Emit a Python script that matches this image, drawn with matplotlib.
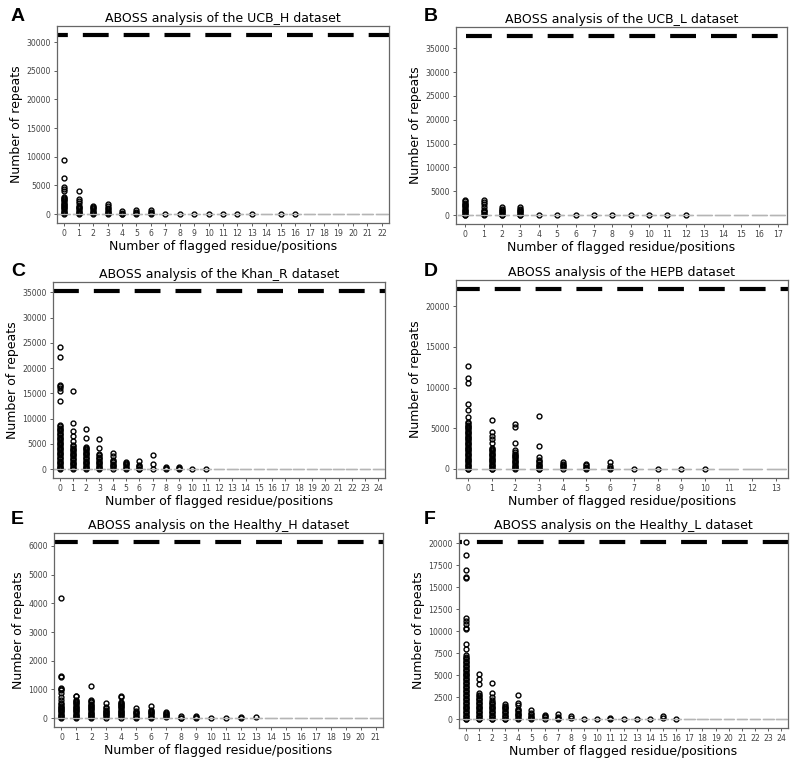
import numpy as np
import matplotlib
matplotlib.use('Agg')
import matplotlib.pyplot as plt
from matplotlib.ticker import MultipleLocator

plt.rcParams['font.family'] = 'DejaVu Sans'

# outlier values (repeats) per number of flagged positions; boxes collapse to 0
ucb_h = [
    [9500, 6300, 4750, 4300, 4000, 3000, 2800, 2600, 2400, 2200, 2000, 1800, 1600, 1400, 1200, 1000, 800, 600, 400, 200, 0],
    [4000, 2550, 2250, 1950, 1400, 1200, 1000, 800, 600, 400, 200, 0],
    [1400, 1200, 1000, 800, 600, 400, 200, 0],
    [1800, 1400, 1000, 800, 600, 400, 200, 0],
    [450, 250, 50, 0],
    [700, 350, 150, 0],
    [650, 350, 150, 0],
    [0], [0], [0], [0], [0], [0], [0],
    [],
    [0], [0],
]
ucb_l = [
    [3100, 2850, 2600, 2350, 2100, 1850, 1600, 1350, 1100, 850, 600, 350, 100, 0],
    [3150, 2700, 2300, 1600, 1050, 800, 550, 300, 0],
    [1600, 1350, 1100, 850, 600, 350, 100, 0],
    [1600, 1350, 1100, 850, 600, 350, 100, 0],
    [0], [0], [0], [0], [0], [0], [0], [0], [0],
]
khan_r = [
    [24100, 22300, 16750, 16400, 16100, 15400, 13500, 8700, 8450, 8200, 7950, 7700, 7450, 7200, 6950, 6700,
     6450, 6200, 5950, 5700, 5450, 5200, 4950, 4700, 4450, 4200, 3950, 3700, 3450, 3200, 2950, 2700, 2450,
     2200, 1950, 1700, 1450, 1200, 950, 700, 450, 200, 0],
    [15400, 9200, 7550, 6550, 5550, 4800, 4500, 4250, 4000, 3750, 3500, 3250, 3000, 2750, 2500, 2250, 2000,
     1750, 1500, 1250, 1000, 750, 500, 250, 0],
    [7850, 6100, 4450, 4200, 3950, 3700, 3450, 3200, 2950, 2700, 2450, 2200, 1950, 1700, 1450, 1200, 950,
     700, 450, 200, 0],
    [5950, 4100, 2950, 2700, 2450, 2200, 1950, 1700, 1450, 1200, 950, 700, 450, 200, 0],
    [3250, 2500, 1850, 1600, 1350, 1100, 850, 600, 350, 100],
    [1500, 1250, 1000, 750, 500, 250, 0],
    [1650, 850, 600, 350, 100, 0],
    [2700, 1000, 0],
    [500, 250, 0],
    [500, 250, 0],
    [0], [0],
]
hepb = [
    [12600, 11200, 10550, 8000, 7300, 6350, 5750, 5600, 5450, 5300, 5150, 5000, 4850, 4700, 4550, 4400, 4250,
     4100, 3950, 3800, 3650, 3500, 3350, 3200, 3050, 2900, 2750, 2600, 2450, 2300, 2150, 2000, 1850, 1700,
     1550, 1400, 1250, 1100, 950, 800, 650, 500, 350, 200, 50, 0],
    [6050, 4600, 4000, 3700, 3200, 2600, 2450, 2300, 2150, 2000, 1850, 1700, 1550, 1400, 1250, 1100, 950, 800,
     650, 500, 350, 200, 50, 0],
    [5550, 5200, 3250, 2350, 2050, 1900, 1750, 1600, 1450, 1300, 1150, 1000, 850, 700, 550, 400, 250, 100, 0],
    [6550, 2800, 1450, 1100, 950, 800, 650, 500, 350, 200, 50, 0],
    [800, 650, 500, 350, 200, 50],
    [600, 450, 300, 150, 0],
    [800, 400, 150, 0],
    [0], [0], [0], [0],
]
healthy_h = [
    [4200, 1480, 1450, 1060, 1000, 980, 870, 750, 640, 520, 480, 440, 400, 360, 320, 280, 240, 200, 160, 120,
     80, 40, 0],
    [780, 770, 640, 600, 560, 520, 480, 440, 400, 360, 320, 280, 240, 200, 160, 120, 80, 40, 0],
    [1130, 630, 590, 550, 510, 470, 430, 390, 350, 310, 270, 230, 190, 150, 110, 70, 30, 0],
    [520, 380, 340, 300, 260, 220, 180, 140, 100, 60, 20],
    [760, 740, 580, 540, 500, 460, 420, 380, 340, 300, 260, 220, 180, 140, 100, 60, 20],
    [370, 250, 210, 170, 130, 90, 50, 10],
    [440, 290, 250, 210, 170, 130, 90, 50, 10],
    [230, 190, 150, 110, 70, 30],
    [60, 20, 0],
    [80, 30, 0],
    [0], [0],
    [45, 0],
    [45],
]
healthy_l = [
    [20150, 18650, 17000, 16150, 16000, 11500, 11200, 10800, 10350, 10200, 8550, 8000, 7250, 7100, 6950, 6800,
     6650, 6500, 6350, 6200, 6050, 5900, 5750, 5600, 5450, 5300, 5150, 5000, 4850, 4700, 4550, 4400, 4250,
     4100, 3950, 3800, 3650, 3500, 3350, 3200, 3050, 2900, 2750, 2600, 2450, 2300, 2150, 2000, 1850, 1700,
     1550, 1400, 1250, 1100, 950, 800, 650, 500, 350, 200, 50, 0],
    [5150, 4600, 4050, 2950, 2750, 2600, 2450, 2300, 2150, 2000, 1850, 1700, 1550, 1400, 1250, 1100, 950, 800,
     650, 500, 350, 200, 50, 0],
    [4150, 3000, 2500, 2150, 2000, 1850, 1700, 1550, 1400, 1250, 1100, 950, 800, 650, 500, 350, 200, 50, 0],
    [1700, 1550, 1400, 1250, 1100, 950, 800, 650, 500, 350, 200, 50, 0],
    [2700, 1850, 1600, 1200, 1050, 900, 750, 600, 450, 300, 150, 0],
    [1000, 700, 550, 400, 250, 100, 0],
    [500, 350, 200, 50],
    [550, 250, 100, 0],
    [400, 150],
    [50], [50],
    [100, 0],
    [50], [0], [0],
    [350, 80],
    [0],
]

datasets = [ucb_h, ucb_l, khan_r, hepb, healthy_h, healthy_l]
n_cats = [23, 18, 25, 14, 22, 25]
totals = [31250, 37600, 35300, 22100, 6140, 20100]
ystep = [5000, 5000, 5000, 5000, 1000, 2500]
titles = ['ABOSS analysis of the UCB_H dataset',
          'ABOSS analysis of the UCB_L dataset',
          'ABOSS analysis of the Khan_R dataset',
          'ABOSS analysis of the HEPB dataset',
          'ABOSS analysis on the Healthy_H dataset',
          'ABOSS analysis on the Healthy_L dataset']
letters = ['A', 'B', 'C', 'D', 'E', 'F']

# axes boxes in figure pixels (left, top, right, bottom) of the 800x767 figure
boxes = [(57, 26, 389, 223), (456, 27, 787, 224),
         (53, 282, 385, 478), (456, 280, 788, 478),
         (54, 533, 383, 727), (459, 533, 788, 728)]
letter_pos = [(11, 8), (424, 8), (11, 263), (424, 263), (11, 511), (424, 511)]
dash_off = [3.6, 7.4, 0.0, 0.5, 0.5, 5.5]

W, H = 800, 767
fig = plt.figure(figsize=(8, 7.67), dpi=100)

for k in range(6):
    l, t, r, b = boxes[k]
    ax = fig.add_axes([l / W, 1 - b / H, (r - l) / W, (b - t) / H])
    n = n_cats[k]
    groups = datasets[k]
    stats = []
    for i in range(n):
        fl = groups[i] if i < len(groups) else []
        stats.append(dict(med=0, q1=0, q3=0, whislo=0, whishi=0, fliers=fl))
    gray = '#b5b5b5'
    ax.bxp(stats, positions=list(range(n)), widths=0.8, showcaps=False,
           boxprops=dict(color=gray, lw=0.9),
           medianprops=dict(color=gray, lw=0.9),
           whiskerprops=dict(color=gray, lw=0.9),
           flierprops=dict(marker='o', markerfacecolor='none', markeredgecolor='black',
                           markersize=3.5, markeredgewidth=1.0))
    ax.plot([-0.5, n - 0.5], [totals[k], totals[k]], color='black', lw=3,
            linestyle=(dash_off[k], (6.2, 3.6)), solid_capstyle='butt')
    ax.set_xlim(-0.5, n - 0.5)
    ax.set_xticks(range(n))
    ax.set_xticklabels([str(i) for i in range(n)])
    ax.yaxis.set_major_locator(MultipleLocator(ystep[k]))
    ax.tick_params(labelsize=5.6, colors='#444444', length=2.5, width=0.6, pad=2)
    for s in ax.spines.values():
        s.set_color('#666666')
        s.set_linewidth(0.9)
    ax.set_title(titles[k], fontsize=9, pad=3)
    ax.set_xlabel('Number of flagged residue/positions', fontsize=9, labelpad=1)
    ax.set_ylabel('Number of repeats', fontsize=9, labelpad=2)
    lx, ly = letter_pos[k]
    fig.text(lx / W, 1 - ly / H, letters[k], fontsize=14, fontweight='bold',
             family='Liberation Sans', va='top', ha='left')

fig.savefig('out.png', dpi=100)
